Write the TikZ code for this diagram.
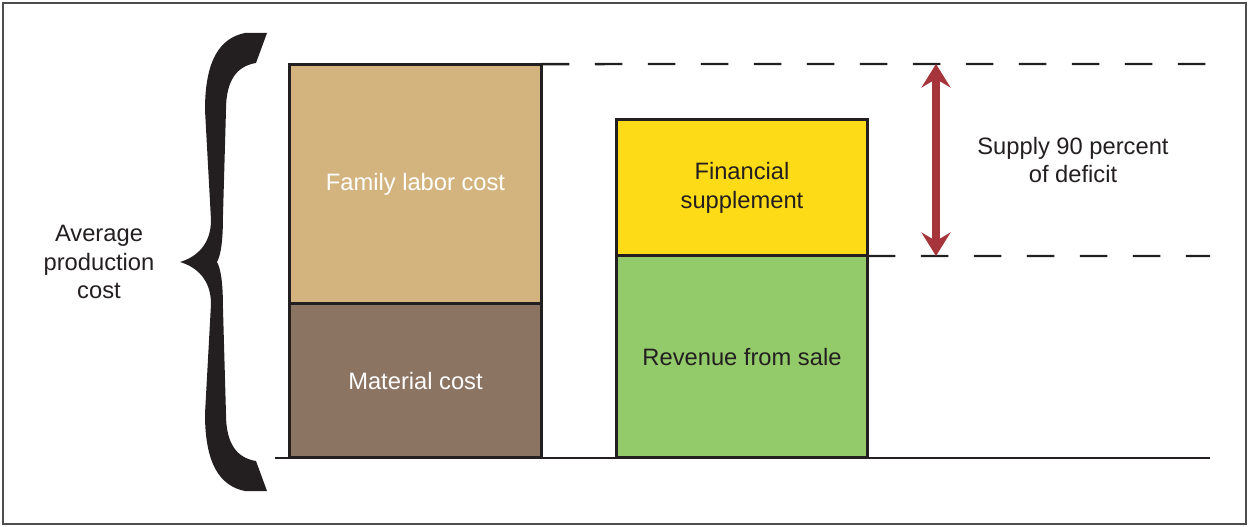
\documentclass[tikz,border=0pt]{standalone}
\usepackage{fontspec}
\setmainfont{Liberation Sans}
\usetikzlibrary{arrows.meta, positioning}

\definecolor{ink}{HTML}{231F20}
\definecolor{labor}{HTML}{D3B47F}
\definecolor{material}{HTML}{8C7462}
\definecolor{supplement}{HTML}{FDDC17}
\definecolor{revenue}{HTML}{93CB6A}
\definecolor{deficit}{HTML}{A6343B}
\definecolor{frame}{HTML}{4D4D4D}

\begin{document}
\begin{tikzpicture}[x=0.02cm, y=-0.02cm, font=\fontsize{13.5}{16.4}\selectfont,
	bar/.style={draw=ink, line width=1.7pt, outer sep=0pt, inner sep=0pt, align=center, text=ink},
	guide/.style={draw=ink, line width=1.4pt, dash pattern=on 0.55cm off 0.51cm},
	gap/.style={draw=deficit, line width=5pt, {Stealth[length=0.47cm, width=0.58cm, inset=0.17cm]}-{Stealth[length=0.47cm, width=0.58cm, inset=0.17cm]}}]
	\useasboundingbox (0,0) rectangle (1249,527);
	\draw[frame, line width=1.2pt] (3,3) rectangle (1246,524);
	
	% ground line
	\coordinate (g0) at (275,458);
	\coordinate (g1) at (1210,458);
	\draw[ink, line width=1.7pt] (g0) -- (g1);
	
	% cost bar
	\node[bar, fill=labor, text=white, minimum width=5.06cm, minimum height=4.8cm] (labor) at (415.5,184) {Family labor cost};
	\node[bar, fill=material, text=white, minimum width=5.06cm, minimum height=3.08cm, below=0pt of labor] (material) {Material cost};
	
	% income bar
	\node[bar, fill=supplement, minimum width=5.04cm, minimum height=2.74cm] (supp) at (742,187.5) {Financial\\supplement};
	\node[bar, fill=revenue, minimum width=5.04cm, minimum height=4.04cm, below=0pt of supp] (revenue) {Revenue from sale};
	
	% levels
	\coordinate (top1) at (1210,64);
	\coordinate (bot1) at (1210,256);
	\draw[guide] (labor.north east) -- (top1);
	\draw[guide] (supp.south east) -- (bot1);
	
	\coordinate (gaptop) at (936,64);
	\coordinate (gapbot) at (936,256);
	\draw[gap] (gaptop) -- (gapbot);
	\node[align=center, text=ink] (share) at (1073,160) {Supply 90 percent\\of deficit};
	
	% brace
	\fill[ink] (245,33) -- (267,33) -- (256,63)
	.. controls (237,66) and (226,80) .. (226,110)
	-- (223,215) .. controls (223,240) and (221,255) .. (217,262)
	.. controls (221,269) and (223,284) .. (223,309)
	-- (226,414) .. controls (226,444) and (237,458) .. (256,461)
	-- (267,491) -- (245,491)
	.. controls (220,486) and (205,464) .. (205,414)
	-- (211,304) .. controls (211,280) and (197,267) .. (180,262)
	.. controls (197,257) and (211,244) .. (211,220)
	-- (205,110) .. controls (205,60) and (220,38) .. (245,33) -- cycle;
	\node[align=center, text=ink] (avg) at (99,262) {Average\\production\\cost};
\end{tikzpicture}
\end{document}
